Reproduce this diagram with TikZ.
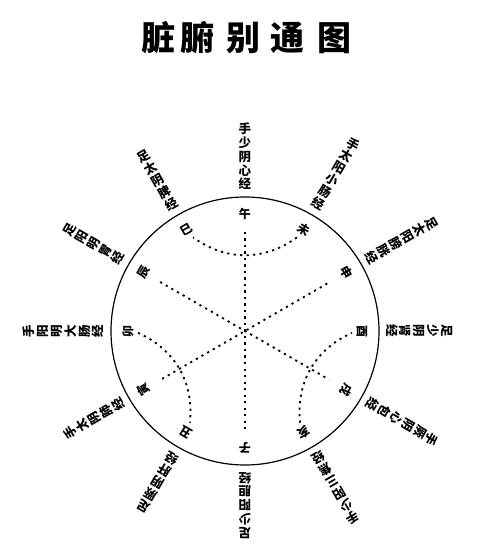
\documentclass[tikz,border=0pt]{standalone}
\usepackage{fontspec}
\newfontfamily\cjk{Noto Sans CJK SC}
\begin{document}
\begin{tikzpicture}[x=1pt,y=1pt,
  branch/.style={font=\cjk\bfseries\fontsize{12}{12}\selectfont,inner sep=0pt},
  meridian/.style={font=\cjk\bfseries\fontsize{12.5}{13.8}\selectfont,align=center,inner sep=0pt,anchor=south},
  headchar/.style={font=\cjk\bfseries\fontsize{34}{34}\selectfont,inner sep=0pt},
  dotline/.style={line width=1.8pt,dash pattern=on 2.2pt off 4.3pt}]
\useasboundingbox (-245,-226) rectangle (235,331);
\coordinate (O) at (0,0);
\node[headchar] (t1) at (-86,293) {脏};
\node[headchar] (t2) at (-47.5,293) {腑};
\node[headchar] (t3) at (-1,293) {别};
\node[headchar] (t4) at (42.5,293) {通};
\node[headchar] (t5) at (89,293) {图};
\draw[line width=1.2pt] (O) circle (134);
\node[branch,rotate=0] (wu) at (90:117) {午};
\node[branch,rotate=-30] (wei) at (60:117) {未};
\node[branch,rotate=-60] (shen) at (30:117) {申};
\node[branch,rotate=-90] (you) at (0:117) {酉};
\node[branch,rotate=-120] (xu) at (-30:117) {戌};
\node[branch,rotate=-150] (hai) at (-60:117) {亥};
\node[branch,rotate=180] (zi) at (-90:117) {子};
\node[branch,rotate=150] (chou) at (-120:117) {丑};
\node[branch,rotate=120] (yin) at (-150:117) {寅};
\node[branch,rotate=90] (mao) at (180:117) {卯};
\node[branch,rotate=60] (chen) at (150:117) {辰};
\node[branch,rotate=30] (si) at (120:117) {巳};
\node[meridian,rotate=0] (heart) at (90:141) {手\\少\\阴\\心\\经};
\node[meridian,rotate=-30] (smallint) at (60:141) {手\\太\\阳\\小\\肠\\经};
\node[meridian,rotate=-60] (bladder) at (30:141) {足\\太\\阳\\膀\\胱\\经};
\node[meridian,rotate=-90] (kidney) at (0:141) {足\\少\\阴\\肾\\经};
\node[meridian,rotate=-120] (pericard) at (-30:141) {手\\厥\\阴\\心\\包\\经};
\node[meridian,rotate=-150] (sanjiao) at (-60:141) {手\\少\\阳\\三\\焦\\经};
\node[meridian,rotate=180] (gall) at (-90:141) {足\\少\\阳\\胆\\经};
\node[meridian,rotate=150] (liver) at (-120:141) {足\\厥\\阴\\肝\\经};
\node[meridian,rotate=120] (lung) at (-150:141) {手\\太\\阴\\肺\\经};
\node[meridian,rotate=90] (largeint) at (180:141) {手\\阳\\明\\大\\肠\\经};
\node[meridian,rotate=60] (stomach) at (150:141) {足\\阳\\明\\胃\\经};
\node[meridian,rotate=30] (spleen) at (120:141) {足\\太\\阴\\脾\\经};
\coordinate (e-wu) at (90:99);
\coordinate (e-zi) at (-90:98);
\coordinate (e-chen) at (150:98);
\coordinate (e-xu) at (-30:97);
\coordinate (e-shen) at (30:95);
\coordinate (e-yin) at (-150:98);
\coordinate (a-wei) at (61:107);
\coordinate (a-si) at (119:107);
\coordinate (a-mao) at (181:107);
\coordinate (a-chou) at (239:107);
\coordinate (a-hai) at (-59:107);
\coordinate (a-you) at (-1:107);
\draw[dotline] (e-wu) -- (e-zi);
\draw[dotline] (e-chen) -- (e-xu);
\draw[dotline] (e-shen) -- (e-yin);
\draw[dotline] (a-wei) to[bend left=36] (a-si);
\draw[dotline] (a-mao) to[bend left=36] (a-chou);
\draw[dotline] (a-hai) to[bend left=36] (a-you);
\end{tikzpicture}
\end{document}
